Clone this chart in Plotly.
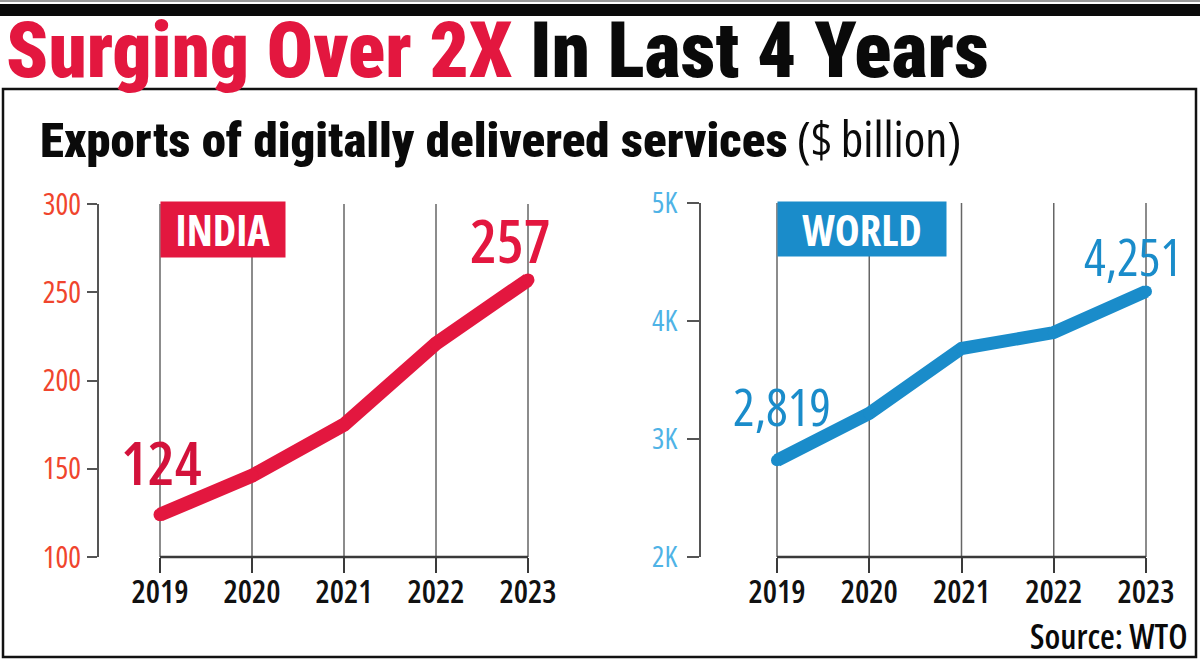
import plotly.graph_objects as go

# ---------------- data ----------------
years = [2019, 2020, 2021, 2022, 2023]
india = [124, 146, 175, 221, 257]
world = [2819, 3217, 3767, 3902, 4251]
india_ticks = [100, 150, 200, 250, 300]
world_ticks = [2000, 3000, 4000, 5000]
world_ticktext = ["2K", "3K", "4K", "5K"]

# ---------------- style ----------------
W, H = 1200, 660
RED = "#e3173f"
RED_DARK = "#d3123b"
BLUE = "#1a8cca"
RED_TICK = "#f0452d"
BLUE_TICK = "#4fb3e6"
AXIS = "#3a3a3a"
GRID = "#666666"
FONT = "Open Sans, Roboto, sans-serif"
HEAVY = "Roboto, Roboto Condensed, sans-serif"
COND = "font-stretch:75%"
SEMI = "font-stretch:87.5%"


def cond(t, st=COND):
    return '<span style="%s">%s</span>' % (st, t)


def px(x):
    return x / W


def py(y):
    return 1 - y / H


# pixel geometry of the two panels
L = dict(x0=160, x1=528, ytop=204, ybot=557, yaxis=98)
R = dict(x0=777, x1=1146, ytop=203, ybot=557, yaxis=700)
PAD = 14


def xdomain(p):
    return [px(p["x0"] - PAD), px(p["x1"] + PAD)]


def xrange_(p):
    ppy = (p["x1"] - p["x0"]) / (years[-1] - years[0])
    return [years[0] - PAD / ppy, years[-1] + PAD / ppy]


fig = go.Figure()
fig.add_trace(go.Scatter(
    x=years, y=india, mode="lines+markers", xaxis="x", yaxis="y",
    line=dict(color=RED, width=14), marker=dict(color=RED, size=13),
    cliponaxis=False, hoverinfo="skip", showlegend=False))
fig.add_trace(go.Scatter(
    x=years, y=world, mode="lines+markers", xaxis="x2", yaxis="y2",
    line=dict(color=BLUE, width=13), marker=dict(color=BLUE, size=12),
    cliponaxis=False, hoverinfo="skip", showlegend=False))

xcommon = dict(showline=False, zeroline=False, showgrid=False, ticks="outside",
               ticklen=15, tickwidth=2, tickcolor=AXIS, tickvals=years,
               ticktext=[cond(y) for y in years], ticklabelstandoff=-8,
               tickfont=dict(family=FONT, size=32, color="#111", weight=600), fixedrange=True,
               automargin=False)
ycommon = dict(showline=True, linecolor="#555", linewidth=2, zeroline=False,
               showgrid=False, ticks="outside", tickwidth=2,
               tickcolor="#555", anchor="free", fixedrange=True, automargin=False)

fig.update_layout(
    width=W, height=H, margin=dict(l=0, r=0, t=0, b=0, autoexpand=False),
    paper_bgcolor="white", plot_bgcolor="rgba(0,0,0,0)",
    xaxis=dict(domain=xdomain(L), range=xrange_(L), anchor="y", **xcommon),
    yaxis=dict(domain=[py(L["ybot"]), py(L["ytop"])], range=[india_ticks[0], india_ticks[-1]],
               position=px(L["yaxis"]), tickvals=india_ticks, ticklen=10,
               ticktext=[cond(v, SEMI) for v in india_ticks],
               tickfont=dict(family=FONT, size=30, color=RED_TICK), **ycommon),
    xaxis2=dict(domain=xdomain(R), range=xrange_(R), anchor="y2", **xcommon),
    yaxis2=dict(domain=[py(R["ybot"]), py(R["ytop"])], range=[world_ticks[0], world_ticks[-1]],
                position=px(R["yaxis"]), tickvals=world_ticks, ticklen=12, ticklabelstandoff=4,
                ticktext=[cond(t, SEMI) for t in world_ticktext],
                tickfont=dict(family=FONT, size=29, color=BLUE_TICK), **ycommon),
)

shapes = []
# top gray hairline + black bar
shapes.append(dict(type="rect", xref="paper", yref="paper", x0=0, x1=1, y0=py(2), y1=py(0),
                   fillcolor="#9a9a9a", line=dict(width=0)))
shapes.append(dict(type="rect", xref="paper", yref="paper", x0=0, x1=1, y0=py(16), y1=py(4),
                   fillcolor="#0a0a0a", line=dict(width=0)))
# frame
shapes.append(dict(type="rect", xref="paper", yref="paper", x0=px(3), x1=px(1196),
                   y0=py(657), y1=py(89), line=dict(color="#111", width=2.5)))
# grid lines and x-axis lines
for xa, ya in (("x", "y"), ("x2", "y2")):
    for yr in years:
        shapes.append(dict(type="line", xref=xa, yref=ya + " domain", x0=yr, x1=yr, y0=0, y1=1,
                           line=dict(color=GRID, width=1.5), layer="below"))
    shapes.append(dict(type="line", xref=xa, yref=ya + " domain", x0=years[0], x1=years[-1],
                       y0=0, y1=0, line=dict(color=AXIS, width=2.5), layer="below"))
fig.update_layout(shapes=shapes)

ann = []
ann.append(dict(xref="paper", yref="paper", x=px(4), y=py(51), xanchor="left", yanchor="middle",
                showarrow=False,
                text='<span style="%s"><span style="color:%s">Surging Over 2X</span> In Last 4 Years</span>'
                     % (COND, RED),
                font=dict(family=HEAVY, size=77, color="#0a0a0a", weight=900)))
ann.append(dict(xref="paper", yref="paper", x=px(38), y=py(138), xanchor="left", yanchor="middle",
                showarrow=False,
                text='<span style="%s;font-family:Roboto;font-weight:900">Exports of digitally delivered services</span>'
                     '<span style="%s;font-family:Open Sans;font-weight:400"> ($ billion)</span>' % (COND, COND),
                font=dict(family=HEAVY, size=49, color="#0a0a0a")))
ann.append(dict(xref="paper", yref="paper", x=px(1190), y=py(636), xanchor="right", yanchor="middle",
                showarrow=False, text=cond("Source: WTO"),
                font=dict(family=FONT, size=34, color="#0a0a0a", weight=600)))
# panel tags
ann.append(dict(xref="x", yref="y", x=years[0], y=india_ticks[-1], xanchor="left", yanchor="top",
                yshift=3, showarrow=False, text=cond("INDIA"), bgcolor=RED, width=124, height=55,
                borderpad=0, font=dict(family=FONT, size=42, color="white", weight="bold")))
ann.append(dict(xref="x2", yref="y2", x=years[0], y=world_ticks[-1], xanchor="left", yanchor="top",
                yshift=2, showarrow=False, text=cond("WORLD"), bgcolor=BLUE, width=168, height=54,
                borderpad=0, font=dict(family=FONT, size=42, color="white", weight="bold")))
# value labels
ann.append(dict(xref="x", yref="y", x=years[0], y=india[0], xshift=1, yshift=53, showarrow=False,
                text=cond(f"{india[0]:,}"), font=dict(family=FONT, size=60, color=RED_DARK, weight=550)))
ann.append(dict(xref="x", yref="y", x=years[-1], y=india[-1], xshift=-18, yshift=40, showarrow=False,
                text=cond(f"{india[-1]:,}"), font=dict(family=FONT, size=60, color=RED, weight=550)))
ann.append(dict(xref="x2", yref="y2", x=years[0], y=world[0], xshift=5, yshift=54, showarrow=False,
                text=cond(f"{world[0]:,}"), font=dict(family=FONT, size=51, color=BLUE, weight=500)))
ann.append(dict(xref="x2", yref="y2", x=years[-1], y=world[-1], xshift=-13, yshift=35, showarrow=False,
                text=cond(f"{world[-1]:,}"), font=dict(family=FONT, size=51, color=BLUE, weight=500)))
fig.update_layout(annotations=ann)

fig.write_html("out.html", config={"displayModeBar": False})
